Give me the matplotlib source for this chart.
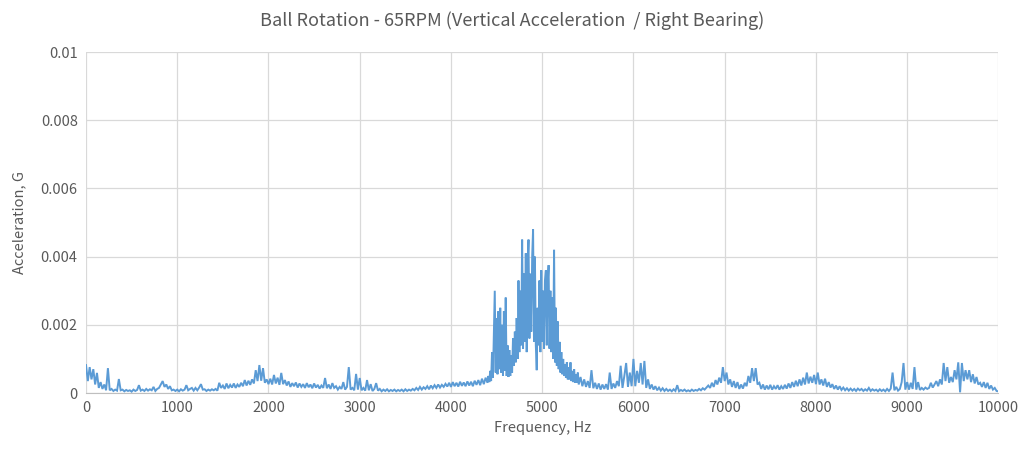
import numpy as np
import matplotlib
matplotlib.use("Agg")
import matplotlib.pyplot as plt
from matplotlib.ticker import FuncFormatter

plt.rcParams['font.family'] = ['Noto Sans CJK KR', 'DejaVu Sans']

# spectrum, values in units of 1e-4 G
# 0 - 4380 Hz, 20 Hz steps
low_start, low_step = 0, 20
accel_low_e4 = [
    8.2, 3.5, 7.6, 4.0, 7.0, 2.5, 5.9, 1.5, 3.2, 1.2,
    2.5, 0.8, 7.3, 0.8, 1.2, 0.6, 1.0, 0.7, 4.1, 0.8,
    1.0, 0.5, 0.9, 0.6, 0.8, 0.4, 1.0, 0.6, 0.9, 2.3,
    0.7, 1.0, 0.6, 1.2, 0.7, 1.1, 0.8, 1.8, 0.6, 1.2,
    1.5, 2.5, 3.5, 1.8, 2.5, 1.2, 2.0, 0.8, 1.0, 0.6,
    1.0, 0.5, 1.1, 0.7, 1.0, 2.3, 0.8, 1.2, 1.5, 0.7,
    1.5, 0.8, 1.6, 2.6, 1.0, 1.1, 0.6, 1.0, 0.7, 1.1,
    0.8, 1.2, 0.7, 3.0, 1.5, 2.2, 1.2, 2.8, 1.4, 2.4,
    1.6, 2.8, 1.5, 2.5, 1.8, 3.0, 2.0, 3.8, 2.2, 3.6,
    2.4, 4.0, 2.8, 6.7, 3.5, 8.2, 3.6, 7.3, 3.0, 4.0,
    2.6, 4.2, 2.5, 5.3, 2.8, 4.5, 2.4, 5.9, 2.6, 3.8,
    2.2, 3.4, 1.8, 2.9, 2.0, 3.1, 1.6, 2.8, 1.8, 2.6,
    1.5, 2.9, 1.7, 2.5, 1.4, 2.8, 1.6, 2.4, 1.3, 2.2,
    1.5, 4.4, 1.4, 2.5, 1.2, 2.9, 1.5, 2.0, 1.0, 1.8,
    1.2, 3.2, 1.0, 1.8, 7.6, 1.0, 1.5, 0.8, 5.6, 1.0,
    4.4, 0.8, 1.5, 0.7, 3.8, 0.8, 2.6, 0.6, 1.2, 2.9,
    0.7, 1.2, 0.5, 1.0, 0.6, 1.1, 0.5, 0.9, 0.6, 1.0,
    0.5, 0.9, 0.6, 1.0, 0.5, 1.1, 0.6, 1.0, 0.7, 1.2,
    0.8, 1.5, 0.9, 1.8, 1.0, 1.7, 1.2, 2.0, 1.1, 2.2,
    1.4, 2.3, 1.5, 2.5, 1.6, 2.4, 1.8, 2.7, 1.9, 3.0,
    1.8, 3.2, 2.0, 3.0, 1.9, 3.3, 2.1, 3.1, 2.0, 3.4,
    2.2, 3.3, 2.0, 3.6, 2.4, 3.8, 2.3, 4.2, 2.6, 4.5,
]

# 4400 - 5390 Hz, 10 Hz steps (the main peak)
mid_start, mid_step = 4400, 10
accel_mid_e4 = [
    3.0, 5.0, 3.2, 6.5, 3.5, 12.0, 4.5, 18.0, 30.0, 6.0,
    22.0, 5.5, 24.0, 7.0, 25.0, 6.0, 20.0, 5.0, 24.0, 6.5,
    28.0, 5.0, 14.0, 4.7, 12.6, 5.0, 11.0, 6.0, 16.0, 8.0,
    18.0, 9.0, 22.0, 10.0, 33.0, 12.0, 30.0, 14.0, 45.0, 13.0,
    35.0, 15.0, 41.0, 12.0, 38.0, 45.0, 16.0, 35.0, 18.0, 40.0,
    48.0, 15.0, 40.0, 14.0, 6.7, 25.0, 14.0, 33.0, 12.0, 36.0,
    15.0, 30.0, 13.0, 33.0, 36.0, 14.0, 32.0, 37.5, 13.0, 30.0,
    12.0, 28.0, 10.0, 42.0, 9.0, 25.0, 8.0, 21.0, 7.0, 15.0,
    6.0, 12.0, 5.5, 10.0, 5.0, 8.5, 4.5, 9.0, 4.0, 7.5,
    4.0, 9.0, 3.5, 6.5, 3.2, 7.0, 3.0, 5.5, 3.0, 6.0,
]

# 5400 - 10000 Hz, 20 Hz steps
high_start, high_step = 5400, 20
accel_high_e4 = [
    2.5, 4.7, 2.0, 4.0, 1.8, 3.5, 1.5, 6.7, 1.4, 3.0,
    1.2, 2.8, 1.0, 2.5, 1.2, 2.6, 1.0, 6.0, 1.2, 2.8,
    1.5, 3.5, 2.0, 8.0, 1.5, 5.0, 8.8, 1.8, 6.0, 2.0,
    10.0, 2.0, 6.5, 3.0, 8.8, 2.5, 9.4, 1.5, 4.0, 1.2,
    2.5, 1.0, 2.0, 0.8, 1.6, 0.7, 1.4, 0.6, 1.2, 0.6,
    1.0, 0.5, 1.1, 0.6, 2.3, 0.5, 0.9, 0.6, 1.0, 0.5,
    0.8, 0.5, 1.0, 0.6, 0.9, 0.7, 1.2, 0.8, 1.4, 1.0,
    1.6, 2.2, 1.5, 3.0, 1.8, 3.8, 2.5, 4.5, 3.0, 7.6,
    3.5, 6.0, 2.5, 4.0, 1.8, 3.5, 1.5, 3.2, 1.2, 2.5,
    1.3, 3.0, 2.0, 5.0, 3.0, 7.3, 3.5, 7.3, 2.5, 3.0,
    1.2, 2.5, 1.0, 2.2, 1.1, 2.4, 1.0, 2.0, 1.2, 2.3,
    1.0, 2.0, 1.2, 2.4, 1.3, 2.8, 1.5, 3.2, 1.8, 3.6,
    2.0, 4.0, 2.2, 4.5, 2.5, 6.0, 2.8, 4.8, 3.0, 5.3,
    2.6, 6.0, 2.5, 4.0, 2.2, 4.2, 1.8, 3.2, 1.6, 2.6,
    1.2, 2.2, 1.0, 2.0, 0.9, 1.6, 0.8, 1.4, 0.7, 1.3,
    0.7, 1.2, 0.6, 1.3, 0.8, 1.2, 0.6, 1.1, 0.7, 1.5,
    0.6, 1.1, 0.7, 1.0, 0.5, 1.1, 0.6, 1.0, 0.5, 1.2,
    0.6, 1.3, 6.0, 0.8, 1.8, 0.7, 1.2, 3.2, 8.8, 1.0,
    3.2, 1.0, 3.0, 1.2, 7.6, 1.0, 3.2, 0.9, 1.5, 1.0,
    1.6, 1.2, 1.5, 3.0, 1.6, 2.5, 3.5, 2.0, 4.0, 2.5,
    8.8, 3.5, 7.6, 3.0, 4.7, 3.2, 6.7, 4.0, 9.0, 0.2,
    8.8, 3.5, 6.7, 4.0, 6.7, 3.2, 5.5, 2.8, 4.7, 2.5,
    3.0, 1.8, 3.2, 1.5, 3.0, 1.2, 2.2, 1.0, 1.5, 0.6,
    0.5,
]

freq = np.concatenate([
    low_start + np.arange(len(accel_low_e4)) * low_step,
    mid_start + np.arange(len(accel_mid_e4)) * mid_step,
    high_start + np.arange(len(accel_high_e4)) * high_step,
])
accel = np.array(accel_low_e4 + accel_mid_e4 + accel_high_e4) * 1e-4

x_ticks = [0, 1000, 2000, 3000, 4000, 5000, 6000, 7000, 8000, 9000, 10000]
y_ticks = [0, 0.002, 0.004, 0.006, 0.008, 0.01]

text_col = "#595959"

fig = plt.figure(figsize=(10.24, 4.57), dpi=100)
ax = fig.add_axes([0.084, 0.140, 0.891, 0.746])

ax.plot(freq, accel, color="#5B9BD5", linewidth=1.4, solid_joinstyle="miter")

ax.set_xlim(0, 10000)
ax.set_ylim(0, 0.01)
ax.set_xticks(x_ticks)
ax.set_yticks(y_ticks)
ax.yaxis.set_major_formatter(FuncFormatter(lambda v, p: "%g" % v))
ax.grid(True, color="#D9D9D9", linewidth=0.9)
ax.set_axisbelow(True)
ax.tick_params(length=0, labelsize=10.5, colors=text_col, pad=6)

for s in ["top", "right", "left"]:
    ax.spines[s].set_visible(False)
ax.spines["bottom"].set_color("#BFBFBF")

ax.set_xlabel("Frequency, Hz", fontsize=10.5, color=text_col, labelpad=4)
ax.set_ylabel("Acceleration, G", fontsize=10.5, color=text_col, labelpad=10)
fig.suptitle("Ball Rotation - 65RPM (Vertical Acceleration  / Right Bearing)",
             fontsize=13, color=text_col, y=0.975)

fig.savefig("out.png", dpi=100)
